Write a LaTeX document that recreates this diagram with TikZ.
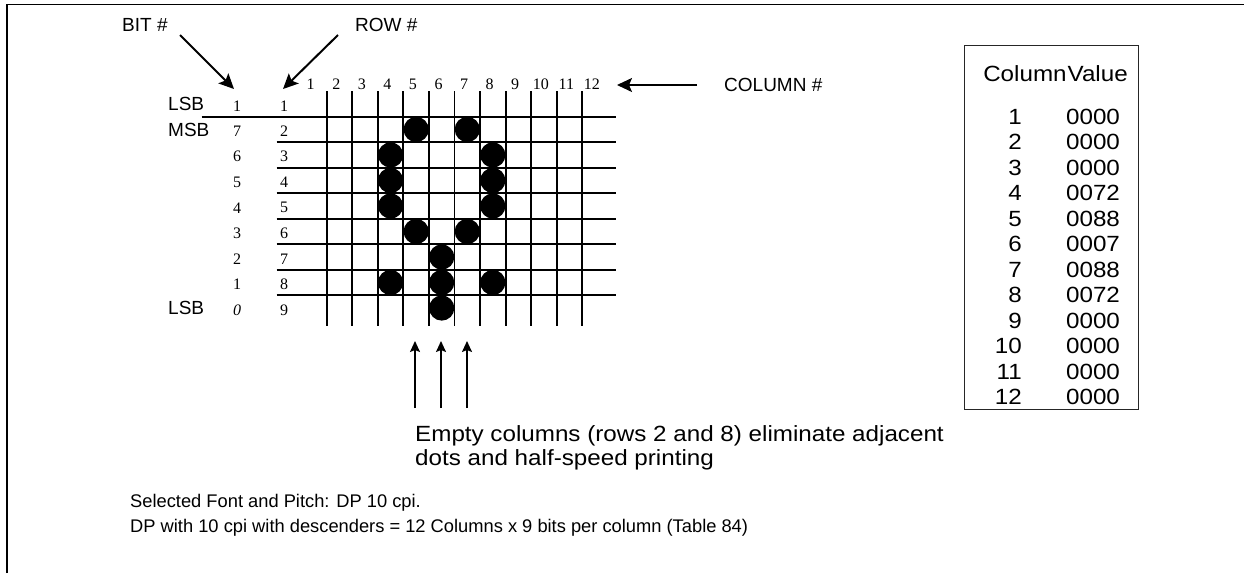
\documentclass[tikz,border=0pt]{standalone}
\usepackage{fontspec}
\setmainfont{Liberation Sans}
\newfontfamily\tms{Liberation Serif}
\newfontfamily\widesans{Liberation Sans}[FakeStretch=1.1]
\usetikzlibrary{arrows.meta}
\begin{document}
\begin{tikzpicture}[x=1pt,y=-1pt,
  lbl/.style={font=\fontsize{19}{22}\selectfont, inner sep=0pt},
  note/.style={font=\widesans\fontsize{22}{24}\selectfont, inner sep=0pt},
  foot/.style={font=\fontsize{18.3}{22}\selectfont, inner sep=0pt},
  tbl/.style={font=\widesans\fontsize{22}{24}\selectfont, inner sep=0pt},
  num/.style={font=\tms\fontsize{16}{18}\selectfont, inner sep=0pt},
  gridline/.style={line width=1.8pt},
  bigarrow/.style={line width=2pt, -{Stealth[length=15pt,width=14pt,inset=3pt]}},
  uparrow/.style={line width=1.6pt, -{Stealth[length=11pt,width=10pt,inset=2pt]}},
  colarrow/.style={line width=1.6pt, -{Stealth[length=15pt,width=14pt,inset=3pt]}}]
\useasboundingbox (0,0) rectangle (1244,573);
% frame
\draw[line width=1.4pt] (7,573) -- (7,4.5) -- (1244,4.5);
% grid
\foreach \i in {0,...,10}
  \draw[gridline] ({326.7+\i*25.56},91) -- ({326.7+\i*25.56},326);
\draw[gridline] (201.7,116.7) -- (615.7,116.7);
\foreach \i in {1,...,7}
  \draw[gridline] (276.7,{116.7+\i*25.51}) -- (615.7,{116.7+\i*25.51});
% dots
\foreach \c/\r in {5/2,7/2,4/3,8/3,4/4,8/4,4/5,8/5,5/6,7/6,6/7,4/8,6/8,8/8,6/9}
  \fill ({326.7+(\c-1.5)*25.56},{116.7+(\r-1.5)*25.51}) circle (12.6);
% column numbers
\foreach \k in {1,...,12}
  \node[num] (c\k) at ({323.5+(\k-1.5)*25.56},84.5) {\k};
% row numbers and bits
\foreach \r/\b in {1/1,2/7,3/6,4/5,5/4,6/3,7/2,8/1}{
  \node[num] (r\r) at (284,{118.5+(\r-1.5)*25.51}) {\r};
  \node[num] (b\r) at (237,{118.5+(\r-1.5)*25.51}) {\b};
}
\node[num] (r9) at (284,{118.5+7.5*25.51}) {9};
\node[num] (b9) at (237,{118.5+7.5*25.51}) {\itshape 0};
\node[lbl,anchor=west] (lsb1) at (168,104) {LSB};
\node[lbl,anchor=west] (msb) at (168,130) {MSB};
\node[lbl,anchor=west] (lsb0) at (168,308) {LSB};
% headings and arrows
\node[lbl,anchor=base west] (bit) at (122,31) {BIT \#};
\node[lbl,anchor=base west] (row) at (355,31) {ROW \#};
\node[lbl,anchor=west] (col) at (724,85) {COLUMN \#};
\coordinate (bits) at (180,35);
\coordinate (bite) at (234,89);
\coordinate (rows) at (338,35);
\coordinate (rowe) at (283,89);
\coordinate (cols) at (697,85);
\coordinate (cole) at (617,85);
\draw[bigarrow] (bits) -- (bite);
\draw[bigarrow] (rows) -- (rowe);
\draw[colarrow] (cols) -- (cole);
% table
\node[draw=black!85,line width=1.2pt,minimum width=174pt,minimum height=364pt,anchor=north west,inner sep=0pt] (box) at (964,45) {};
\node[tbl] (head) at (1055.5,74) {Column\kern1pt Value};
\foreach \i/\v in {1/0000,2/0000,3/0000,4/0072,5/0088,6/0007,7/0088,8/0072,9/0000,10/0000,11/0000,12/0000}{
  \node[tbl,anchor=east] (tc\i) at (1022,{116.7+(\i-1)*25.5}) {\i};
  \node[tbl] (tv\i) at (1093,{116.7+(\i-1)*25.5}) {\v};
}
% up arrows
\foreach \x [count=\n] in {415,441,467}{
  \coordinate (us\n) at (\x,408);
  \coordinate (ue\n) at (\x,341);
  \draw[uparrow] (us\n) -- (ue\n);
}
\node[note,anchor=base west] (empty1) at (415,441) {Empty columns (rows 2 and 8) eliminate adjacent};
\node[note,anchor=base west] (empty2) at (415,465) {dots and half-speed printing};
\node[foot,anchor=base west] (sel) at (130,507) {Selected Font and Pitch: DP 10 cpi.};
\node[foot,anchor=base west] (dp) at (130,532) {DP with 10 cpi with descenders = 12 Columns x 9 bits per column (Table 84)};
\end{tikzpicture}
\end{document}
